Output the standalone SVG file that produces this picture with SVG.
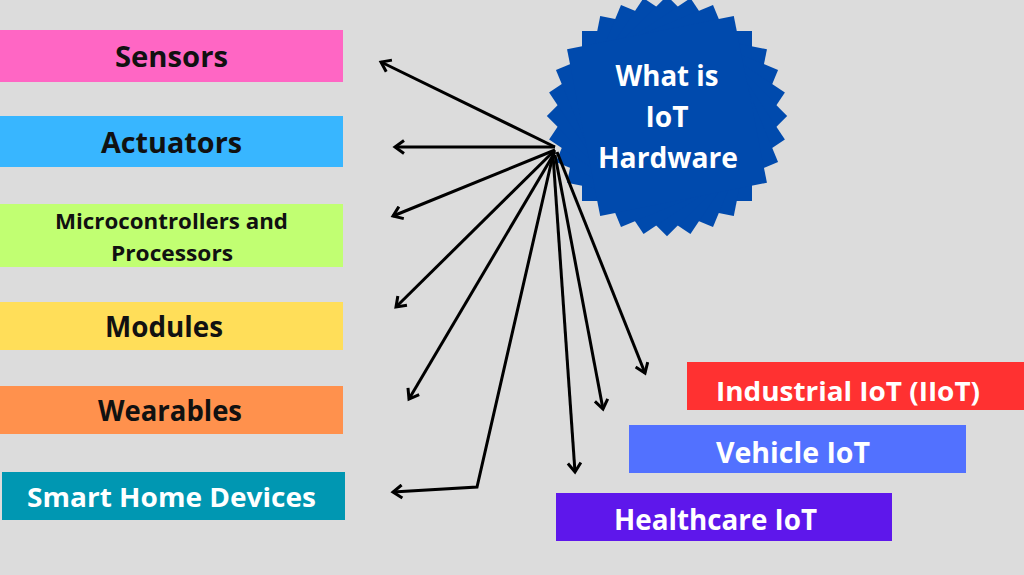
<svg xmlns="http://www.w3.org/2000/svg" width="1024" height="575" viewBox="0 0 1024 575">
<style>
.t{font-family:"Open Sans","DejaVu Sans",sans-serif;font-weight:700;text-anchor:middle;dominant-baseline:central}
.d{fill:#111}
.w{fill:#fff}
.c{fill:none;stroke:#000;stroke-width:3;stroke-linejoin:miter}
</style>
<defs>
<marker id="ah" markerUnits="userSpaceOnUse" markerWidth="16" markerHeight="16" refX="12" refY="8" orient="auto" viewBox="0 0 16 16">
<path d="M3,1.5 L12,8 L3,14.5" fill="none" stroke="#000" stroke-width="3"/>
</marker>
</defs>
<rect width="1024" height="575" fill="#dcdcdc"/>

<g id="hub">
<g fill="#004aad" transform="translate(667,116)">
<rect x="-85" y="-85" width="170" height="170" transform="rotate(0)"/>
<rect x="-85" y="-85" width="170" height="170" transform="rotate(11.25)"/>
<rect x="-85" y="-85" width="170" height="170" transform="rotate(22.5)"/>
<rect x="-85" y="-85" width="170" height="170" transform="rotate(33.75)"/>
<rect x="-85" y="-85" width="170" height="170" transform="rotate(45)"/>
<rect x="-85" y="-85" width="170" height="170" transform="rotate(56.25)"/>
<rect x="-85" y="-85" width="170" height="170" transform="rotate(67.5)"/>
<rect x="-85" y="-85" width="170" height="170" transform="rotate(78.75)"/>
</g>
<text class="t w" x="667" y="75" font-size="28" textLength="103" lengthAdjust="spacingAndGlyphs">What is</text>
<text class="t w" x="667" y="116" font-size="28" textLength="43" lengthAdjust="spacingAndGlyphs">IoT</text>
<text class="t w" x="668" y="157" font-size="28" textLength="140" lengthAdjust="spacingAndGlyphs">Hardware</text>
</g>

<g id="connectors">
<path class="c" d="M555,147 L381,62" marker-end="url(#ah)"/>
<path class="c" d="M555,147 L395,147" marker-end="url(#ah)"/>
<path class="c" d="M555,150 L393,216" marker-end="url(#ah)"/>
<path class="c" d="M555,150 L396,307" marker-end="url(#ah)"/>
<path class="c" d="M555,152 L409,399" marker-end="url(#ah)"/>
<path class="c" d="M553,155 L477,487 L393,492" marker-end="url(#ah)"/>
<path class="c" d="M553,155 L575,472" marker-end="url(#ah)"/>
<path class="c" d="M555,155 L603,409" marker-end="url(#ah)"/>
<path class="c" d="M557,152 L645,373" marker-end="url(#ah)"/>
</g>

<g id="sensors">
<rect x="0" y="30" width="343" height="52" fill="#ff66c4"/>
<text class="t d" x="171.5" y="56" font-size="28" textLength="113" lengthAdjust="spacingAndGlyphs">Sensors</text>
</g>
<g id="actuators">
<rect x="0" y="116" width="343" height="51" fill="#38b6ff"/>
<text class="t d" x="171.5" y="142" font-size="28" textLength="141" lengthAdjust="spacingAndGlyphs">Actuators</text>
</g>
<g id="microcontrollers">
<rect x="0" y="204" width="343" height="63" fill="#c1ff72"/>
<text class="t d" x="171.5" y="221" font-size="21" textLength="233" lengthAdjust="spacingAndGlyphs">Microcontrollers and</text>
<text class="t d" x="172" y="253" font-size="21" textLength="122" lengthAdjust="spacingAndGlyphs">Processors</text>
</g>
<g id="modules">
<rect x="0" y="302" width="343" height="48" fill="#ffde59"/>
<text class="t d" x="164" y="326" font-size="28" textLength="118" lengthAdjust="spacingAndGlyphs">Modules</text>
</g>
<g id="wearables">
<rect x="0" y="386" width="343" height="48" fill="#ff914d"/>
<text class="t d" x="170" y="410" font-size="28" textLength="144" lengthAdjust="spacingAndGlyphs">Wearables</text>
</g>
<g id="smarthome">
<rect x="2" y="472" width="343" height="48" fill="#0097b2"/>
<text class="t w" x="171.5" y="496" font-size="27" textLength="289" lengthAdjust="spacingAndGlyphs">Smart Home Devices</text>
</g>

<g id="industrial">
<rect x="687" y="362" width="337" height="48" fill="#ff3131"/>
<text class="t w" x="848" y="390" font-size="27" textLength="264" lengthAdjust="spacingAndGlyphs">Industrial IoT (IIoT)</text>
</g>
<g id="vehicle">
<rect x="629" y="425" width="337" height="48" fill="#5271ff"/>
<text class="t w" x="793" y="452" font-size="28" textLength="154" lengthAdjust="spacingAndGlyphs">Vehicle IoT</text>
</g>
<g id="healthcare">
<rect x="556" y="493" width="336" height="48" fill="#5e17eb"/>
<text class="t w" x="715.5" y="519" font-size="28" textLength="203" lengthAdjust="spacingAndGlyphs">Healthcare IoT</text>
</g>
</svg>
